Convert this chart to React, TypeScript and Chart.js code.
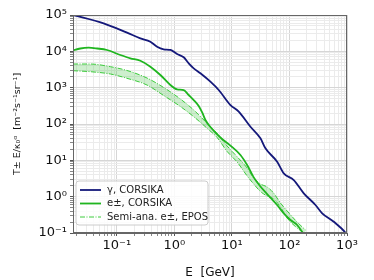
import React, { useEffect, useRef } from "react";
import { Chart, registerables } from "chart.js";

Chart.register(...registerables);

// γ, CORSIKA
const E_GAMMA = [0.0173, 0.0589, 0.1504, 0.2563, 0.3825, 0.5003, 0.6516, 0.852, 1.114, 1.451, 1.773, 2.167, 2.833, 4.228, 5.893, 9.417, 13.13, 20.98, 31.31, 38.24, 61.1, 79.6, 118.8, 177.3, 283.3, 370.5, 589.4, 941.7, 1000];
const T_GAMMA = [100000, 59100, 32600, 22800, 18400, 13400, 11400, 10900, 8440, 6850, 4680, 3410, 2490, 1460, 862, 333, 218, 84.2, 40.4, 21.4, 9.16, 4.39, 2.87, 1.236, 0.589, 0.348, 0.204, 0.1018, 0.088];

// e±, CORSIKA
const E_EPM = [0.01663, 0.0232, 0.0323, 0.0458, 0.0675, 0.115, 0.1717, 0.2563, 0.3825, 0.5708, 0.852, 1.114, 1.451, 1.773, 2.167, 2.647, 3.069, 3.46, 4.228, 6.31, 9.417, 14.05, 18.38, 23.94, 31.31, 40.95, 61.1, 79.6, 104.1, 136.1, 166.3, 185];
const T_EPM = [10400, 11960, 12590, 11960, 10880, 7930, 6430, 5520, 3780, 2230, 1184, 901, 862, 628, 457, 313, 201, 129, 82.6, 42.5, 25.5, 14.0, 7.43, 3.4, 1.9, 1.18, 0.589, 0.348, 0.228, 0.166, 0.106, 0.08];

// Semi-analytic e±, EPOS (band)
const E_SEMI = [0.0173, 0.0346, 0.077, 0.15, 0.335, 0.652, 1.27, 2.17, 3.71, 5.53, 8.26, 12.3, 18.4, 23.9, 31.3, 40.9, 53.4, 69.7, 91.2, 136, 190];
const T_SEMI_HI = [4480, 4480, 3780, 2970, 1840, 1010, 488, 243, 104, 55.5, 24.8, 12.6, 6.15, 3.26, 2.23, 1.85, 1.24, 0.668, 0.403, 0.2, 0.121];
const T_SEMI_LO = [2930, 2750, 2380, 1810, 1180, 608, 303, 159, 76, 42.5, 17.5, 9.0, 3.71, 2.23, 1.39, 1.04, 0.86, 0.519, 0.258, 0.137, 0.094];

const X_MIN = 0.0173;
const X_MAX = 1000;
const Y_MIN = 0.1;
const Y_MAX = 100000;
const X_EXPONENTS = [-2, -1, 0, 1, 2, 3];
const Y_EXPONENTS = [-1, 0, 1, 2, 3, 4, 5];

const LEGEND_LABELS = ["γ, CORSIKA", "e±, CORSIKA", "Semi-ana. e±, EPOS"];

const SUP: Record<string, string> = { "-": "⁻", "0": "⁰", "1": "¹", "2": "²", "3": "³", "4": "⁴", "5": "⁵", "6": "⁶", "7": "⁷", "8": "⁸", "9": "⁹" };
const pow10Label = (e: number) => "10" + String(e).split("").map((c) => SUP[c]).join("");

const logTicks = (exps: number[], min: number, max: number) => {
  const out: { value: number; major: boolean }[] = [];
  exps.forEach((e) => {
    for (let m = 1; m <= 9; m++) {
      const v = Number((m * Math.pow(10, e)).toPrecision(3));
      if (v >= min * 0.9999 && v <= max * 1.0001) out.push({ value: v, major: m === 1 });
    }
  });
  return out;
};

const BLUE = "#14187a";
const GREEN = "#1fb51f";
const LGREEN = "#3ccc3c";
const FONT = "'DejaVu Sans', sans-serif";

const framePlugin = {
  id: "frameAndLegend",
  afterDraw(chart: any) {
    const { ctx, chartArea } = chart;
    const { left, top, right, bottom } = chartArea;
    ctx.save();
    ctx.strokeStyle = "#666";
    ctx.lineWidth = 1;
    ctx.strokeRect(left + 0.5, top + 0.5, right - left - 1, bottom - top - 1);

    // legend
    const lx = 76, ly = 181, lw = 132, lh = 44, r = 3;
    ctx.beginPath();
    ctx.moveTo(lx + r, ly);
    ctx.lineTo(lx + lw - r, ly);
    ctx.quadraticCurveTo(lx + lw, ly, lx + lw, ly + r);
    ctx.lineTo(lx + lw, ly + lh - r);
    ctx.quadraticCurveTo(lx + lw, ly + lh, lx + lw - r, ly + lh);
    ctx.lineTo(lx + r, ly + lh);
    ctx.quadraticCurveTo(lx, ly + lh, lx, ly + lh - r);
    ctx.lineTo(lx, ly + r);
    ctx.quadraticCurveTo(lx, ly, lx + r, ly);
    ctx.closePath();
    ctx.fillStyle = "rgba(255,255,255,0.85)";
    ctx.fill();
    ctx.strokeStyle = "#cccccc";
    ctx.stroke();

    const rows = [
      { color: BLUE, dash: [] as number[], width: 1.8 },
      { color: GREEN, dash: [] as number[], width: 1.8 },
      { color: LGREEN, dash: [5, 1.5, 1, 1.5], width: 1 },
    ];
    rows.forEach((row, i) => {
      const y = 190 + i * 13.5;
      ctx.beginPath();
      ctx.setLineDash(row.dash);
      ctx.strokeStyle = row.color;
      ctx.lineWidth = row.width;
      ctx.moveTo(80, y);
      ctx.lineTo(101, y);
      ctx.stroke();
      ctx.setLineDash([]);
      ctx.fillStyle = "#222";
      ctx.font = `10px ${FONT}`;
      ctx.textBaseline = "middle";
      ctx.fillText(LEGEND_LABELS[i], 107, y);
    });
    ctx.restore();
  },
};

export default function App() {
  const ref = useRef<HTMLCanvasElement | null>(null);

  useEffect(() => {
    if (!ref.current) return;
    const pts = (xs: number[], ys: number[]) => xs.map((x, i) => ({ x, y: ys[i] }));
    const chart = new Chart(ref.current, {
      type: "line",
      data: {
        datasets: [
          {
            label: LEGEND_LABELS[0],
            data: pts(E_GAMMA, T_GAMMA),
            borderColor: BLUE,
            borderWidth: 1.8,
            pointRadius: 0,
            fill: false,
            cubicInterpolationMode: "monotone",
          },
          {
            label: LEGEND_LABELS[1],
            data: pts(E_EPM, T_EPM),
            borderColor: GREEN,
            borderWidth: 1.8,
            pointRadius: 0,
            fill: false,
            cubicInterpolationMode: "monotone",
          },
          {
            label: LEGEND_LABELS[2],
            data: pts(E_SEMI, T_SEMI_HI),
            borderColor: LGREEN,
            borderWidth: 1,
            borderDash: [5, 1.5, 1, 1.5],
            pointRadius: 0,
            fill: "+1",
            backgroundColor: "rgba(60,190,60,0.25)",
            cubicInterpolationMode: "monotone",
          },
          {
            label: "_semi_lo",
            data: pts(E_SEMI, T_SEMI_LO),
            borderColor: LGREEN,
            borderWidth: 1,
            borderDash: [5, 1.5, 1, 1.5],
            pointRadius: 0,
            fill: false,
            cubicInterpolationMode: "monotone",
          },
        ],
      },
      options: {
        animation: false,
        responsive: false,
        maintainAspectRatio: false,
        layout: { padding: { left: 0, right: 27, top: 15, bottom: 0 } },
        plugins: { legend: { display: false }, tooltip: { enabled: false } },
        scales: {
          x: {
            type: "logarithmic",
            min: X_MIN,
            max: X_MAX,
            afterBuildTicks: (axis: any) => {
              axis.ticks = logTicks(X_EXPONENTS, X_MIN, X_MAX);
            },
            afterFit: (axis: any) => {
              axis.height = 47;
            },
            ticks: {
              autoSkip: false,
              maxRotation: 0,
              padding: 2,
              color: "#111",
              font: { family: FONT, size: 13 },
              callback: (v: any) => {
                const e = Math.log10(Number(v));
                return Math.abs(e - Math.round(e)) < 1e-6 ? pow10Label(Math.round(e)) : "";
              },
            },
            grid: {
              color: (c: any) => (c.tick && c.tick.major ? "#d6d6d6" : "#ebebeb"),
              tickColor: (c: any) => (c.tick && c.tick.major ? "#555" : "#888"),
              tickLength: 3,
            },
            border: { color: "#666" },
            title: {
              display: true,
              text: "E  [GeV]",
              color: "#111",
              font: { family: FONT, size: 12 },
              padding: { top: 4, bottom: 0 },
            },
          },
          y: {
            type: "logarithmic",
            min: Y_MIN,
            max: Y_MAX,
            afterBuildTicks: (axis: any) => {
              axis.ticks = logTicks(Y_EXPONENTS, Y_MIN, Y_MAX);
            },
            afterFit: (axis: any) => {
              axis.width = 73;
            },
            ticks: {
              autoSkip: false,
              padding: 3,
              color: "#111",
              font: { family: FONT, size: 13 },
              callback: (v: any) => {
                const e = Math.log10(Number(v));
                return Math.abs(e - Math.round(e)) < 1e-6 ? pow10Label(Math.round(e)) : "";
              },
            },
            grid: {
              color: (c: any) => (c.tick && c.tick.major ? "#d6d6d6" : "#ebebeb"),
              tickColor: (c: any) => (c.tick && c.tick.major ? "#555" : "#888"),
              tickLength: 3,
            },
            border: { color: "#666" },
            title: {
              display: true,
              text: "T± E/κ₀ᵅ  [m⁻²s⁻¹sr⁻¹]",
              color: "#111",
              font: { family: FONT, size: 9.5 },
              padding: { top: 12, bottom: 0 },
            },
          },
        },
      },
      plugins: [framePlugin],
    } as any);
    return () => chart.destroy();
  }, []);

  return (
    <div style={{ position: "fixed", left: 0, top: 0, width: 374, height: 280, background: "#fff" }}>
      <canvas ref={ref} width={374} height={280} />
    </div>
  );
}
